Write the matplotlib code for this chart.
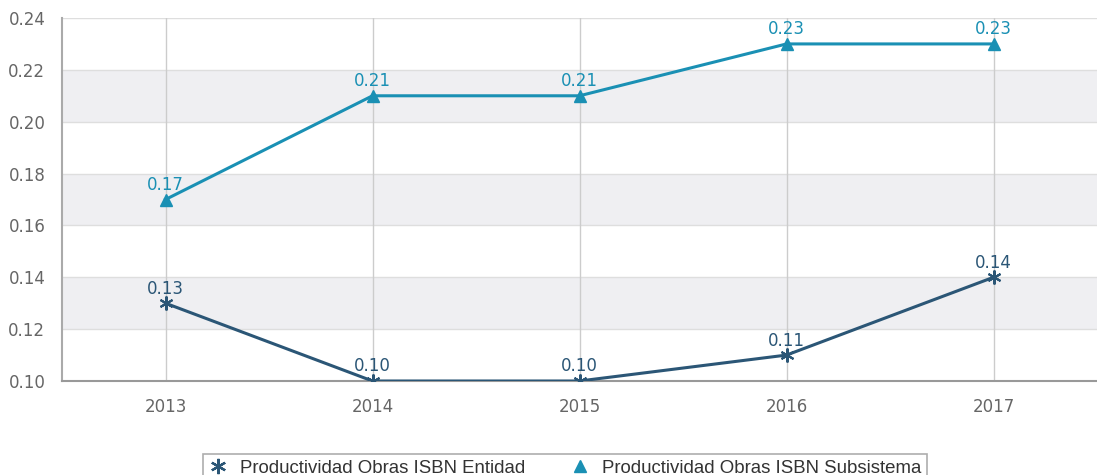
import matplotlib.pyplot as plt
from matplotlib.lines import Line2D

plt.rcParams['font.family'] = ['DejaVu Sans']

years = [2013, 2014, 2015, 2016, 2017]
entidad = [0.13, 0.10, 0.10, 0.11, 0.14]
subsistema = [0.17, 0.21, 0.21, 0.23, 0.23]
yticks = [0.10, 0.12, 0.14, 0.16, 0.18, 0.20, 0.22, 0.24]

c_ent = '#2b5676'
c_sub = '#1a90b4'
tick_col = '#666666'

fig = plt.figure(figsize=(10.97, 4.75), dpi=100)
ax = fig.add_axes([62 / 1097, 1 - 381 / 475, 1035 / 1097, 363 / 475])

# bandas alternas
for lo in [0.12, 0.16, 0.20]:
    ax.axhspan(lo, lo + 0.02, color='#efeff2', zorder=0, lw=0)
for y in yticks:
    ax.axhline(y, color='#dedede', lw=1, zorder=1)
for x in years:
    ax.axvline(x, color='#cccccc', lw=1, zorder=1)

ax.plot(years, entidad, color=c_ent, lw=2.2, marker=(6, 2, 0), ms=10,
        mew=1.5, zorder=3)
ax.plot(years, subsistema, color=c_sub, lw=2.2, marker='^', ms=8, zorder=3)

for x, v in zip(years, entidad):
    ax.annotate('%.2f' % v, (x, v), xytext=(0, 4), textcoords='offset points',
                ha='center', va='bottom', color=c_ent, fontsize=12, zorder=4)
for x, v in zip(years, subsistema):
    ax.annotate('%.2f' % v, (x, v), xytext=(0, 4), textcoords='offset points',
                ha='center', va='bottom', color=c_sub, fontsize=12, zorder=4)

ax.set_xlim(2012.5, 2017.5)
ax.set_ylim(0.10, 0.24)
ax.set_xticks(years)
ax.set_yticks(yticks)
ax.set_yticklabels(['%.2f' % y for y in yticks])
ax.tick_params(colors=tick_col, labelsize=12, length=0)
ax.tick_params(axis='y', pad=12)
ax.tick_params(axis='x', pad=12)
for s in ['top', 'right']:
    ax.spines[s].set_visible(False)
ax.spines['left'].set_color('#aaaaaa')
ax.spines['left'].set_linewidth(1.5)
ax.spines['bottom'].set_color('#999999')
ax.spines['bottom'].set_linewidth(1.5)

handles = [
    Line2D([], [], ls='none', marker=(6, 2, 0), ms=11, mew=1.6, color=c_ent),
    Line2D([], [], ls='none', marker='^', ms=8, color=c_sub),
]
labels = ['Productividad Obras ISBN Entidad', 'Productividad Obras ISBN Subsistema']
leg = fig.legend(handles, labels, loc='upper center',
                 bbox_to_anchor=(565 / 1097, 1 - 445 / 475),
                 ncol=2, frameon=True, fancybox=False, edgecolor='#999999',
                 prop={'family': 'Liberation Sans', 'size': 13.4},
                 handlelength=1.0, handletextpad=0.7, columnspacing=2.4,
                 borderpad=0.3)
leg.get_frame().set_linewidth(1.2)
for t in leg.get_texts():
    t.set_color('#333333')

fig.savefig('out.png', dpi=100)
